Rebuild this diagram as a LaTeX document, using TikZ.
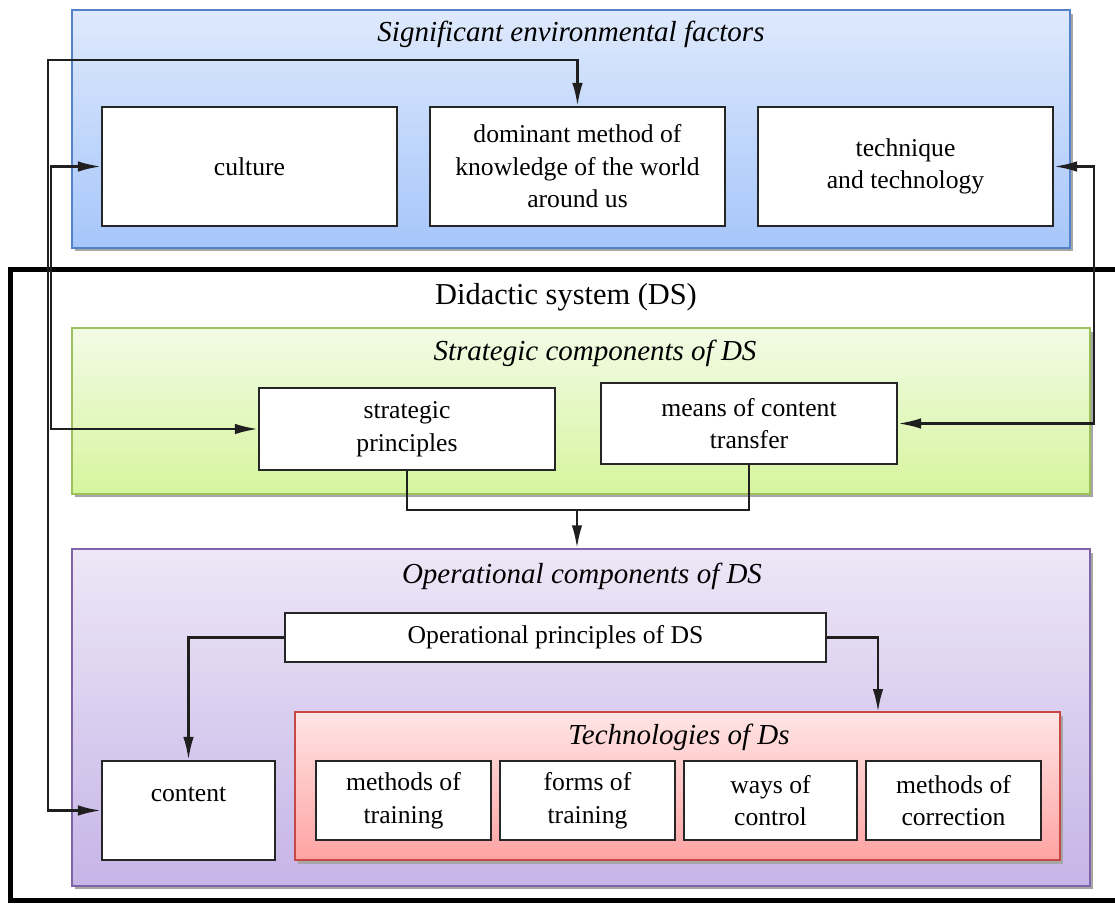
\documentclass[tikz,border=0pt]{standalone}
\usepackage{fontspec}
\setmainfont{Liberation Serif}
\usetikzlibrary{arrows.meta,shadows}

\definecolor{envtop}{RGB}{222,233,252}
\definecolor{envbot}{RGB}{166,198,250}
\definecolor{envline}{RGB}{84,130,200}
\definecolor{strtop}{RGB}{242,251,230}
\definecolor{strbot}{RGB}{214,245,158}
\definecolor{strline}{RGB}{158,192,90}
\definecolor{optop}{RGB}{237,231,247}
\definecolor{opbot}{RGB}{198,180,231}
\definecolor{opline}{RGB}{128,100,170}
\definecolor{techtop}{RGB}{255,229,229}
\definecolor{techbot}{RGB}{255,163,163}
\definecolor{techline}{RGB}{200,72,70}

\tikzset{
  frame/.style={line width=0.9pt, drop shadow={shadow xshift=0.06cm, shadow yshift=-0.07cm, fill=black!35, opacity=1}},
  box/.style={draw=black!85, line width=1.2pt, fill=white, align=center, font=\fontsize{14.6}{18.5}\selectfont},
  frametitle/.style={font=\fontsize{16.5}{19}\selectfont\itshape},
  link/.style={line width=1.4pt, draw=black!88},
}

\begin{document}
\begin{tikzpicture}[x=0.02cm, y=-0.02cm, >={Latex[length=4.6mm,width=2.1mm]}]
  \useasboundingbox (0,0) rectangle (1115,903);

  % Didactic system
  \node[draw, line width=2.8pt, minimum width=22.5cm, minimum height=12.64cm] (ds) at (572.5,585) {};
  \node[font=\fontsize{17.3}{20}\selectfont] (dstitle) at (566,297) {Didactic system (DS)};

  % Environmental factors
  \node[frame, draw=envline, top color=envtop, bottom color=envbot, minimum width=19.96cm, minimum height=4.76cm] (envframe) at (571,129) {};
  \node[frametitle] (envtitle) at (571,34) {Significant environmental factors};
  \node[box, minimum width=5.9cm, minimum height=2.38cm] (culture) at (249.5,166.5) {culture};
  \node[box, minimum width=5.9cm, minimum height=2.38cm] (dominant) at (577.5,166.5) {dominant method of\\knowledge of the world\\around us};
  \node[box, minimum width=5.9cm, minimum height=2.38cm] (technique) at (905.5,166.5) {technique\\and technology};

  % Strategic components
  \node[frame, draw=strline, top color=strtop, bottom color=strbot, minimum width=20.36cm, minimum height=3.32cm] (strframe) at (581,411) {};
  \node[frametitle] (strtitle) at (595,353) {Strategic components of DS};
  \node[box, minimum width=5.92cm, minimum height=1.64cm] (strategic) at (407,429) {strategic\\principles};
  \node[box, minimum width=5.92cm, minimum height=1.62cm] (means) at (749,423.5) {means of content\\transfer};

  % Operational components
  \node[frame, draw=opline, top color=optop, bottom color=opbot, minimum width=20.36cm, minimum height=6.74cm] (opframe) at (581,717.5) {};
  \node[frametitle] (optitle) at (582,576) {Operational components of DS};
  \node[box, minimum width=10.82cm, minimum height=0.98cm] (oppr) at (555.5,637.5) {Operational principles of DS};
  \node[box, minimum width=3.46cm, minimum height=1.98cm] (content) at (188.5,810.5) {content\\~};

  % Technologies
  \node[frame, draw=techline, top color=techtop, bottom color=techbot, minimum width=15.3cm, minimum height=2.96cm] (techframe) at (677.5,786) {};
  \node[frametitle] (techtitle) at (679,737) {Technologies of Ds};
  \node[box, minimum width=3.5cm, minimum height=1.58cm] (training) at (403.5,800.5) {methods of\\training};
  \node[box, minimum width=3.5cm, minimum height=1.58cm] (forms) at (587.5,800.5) {forms of\\training};
  \node[box, minimum width=3.46cm, minimum height=1.58cm] (control) at (770.5,800.5) {ways of\\control};
  \node[box, minimum width=3.5cm, minimum height=1.58cm] (correction) at (953.5,800.5) {methods of\\correction};

  % Connectors
  \coordinate (merge) at (577,510);
  \coordinate (techin) at (878,712);
  \draw[link, <->] (dominant.north) |- (48,60) |- (content.west);
  \draw[link, <->] (culture.west) -- ++(-50,0) |- (strategic.west);
  \draw[link, <->] (technique.east) -- ++(40,0) |- (means.east);
  \draw[link] (strategic.south) |- (merge);
  \draw[link, ->] (means.south) |- (merge) -- (merge |- opframe.north);
  \draw[link, ->] (oppr.west) -| (content.north);
  \draw[link, ->] (oppr.east) -| (techin);
\end{tikzpicture}
\end{document}
